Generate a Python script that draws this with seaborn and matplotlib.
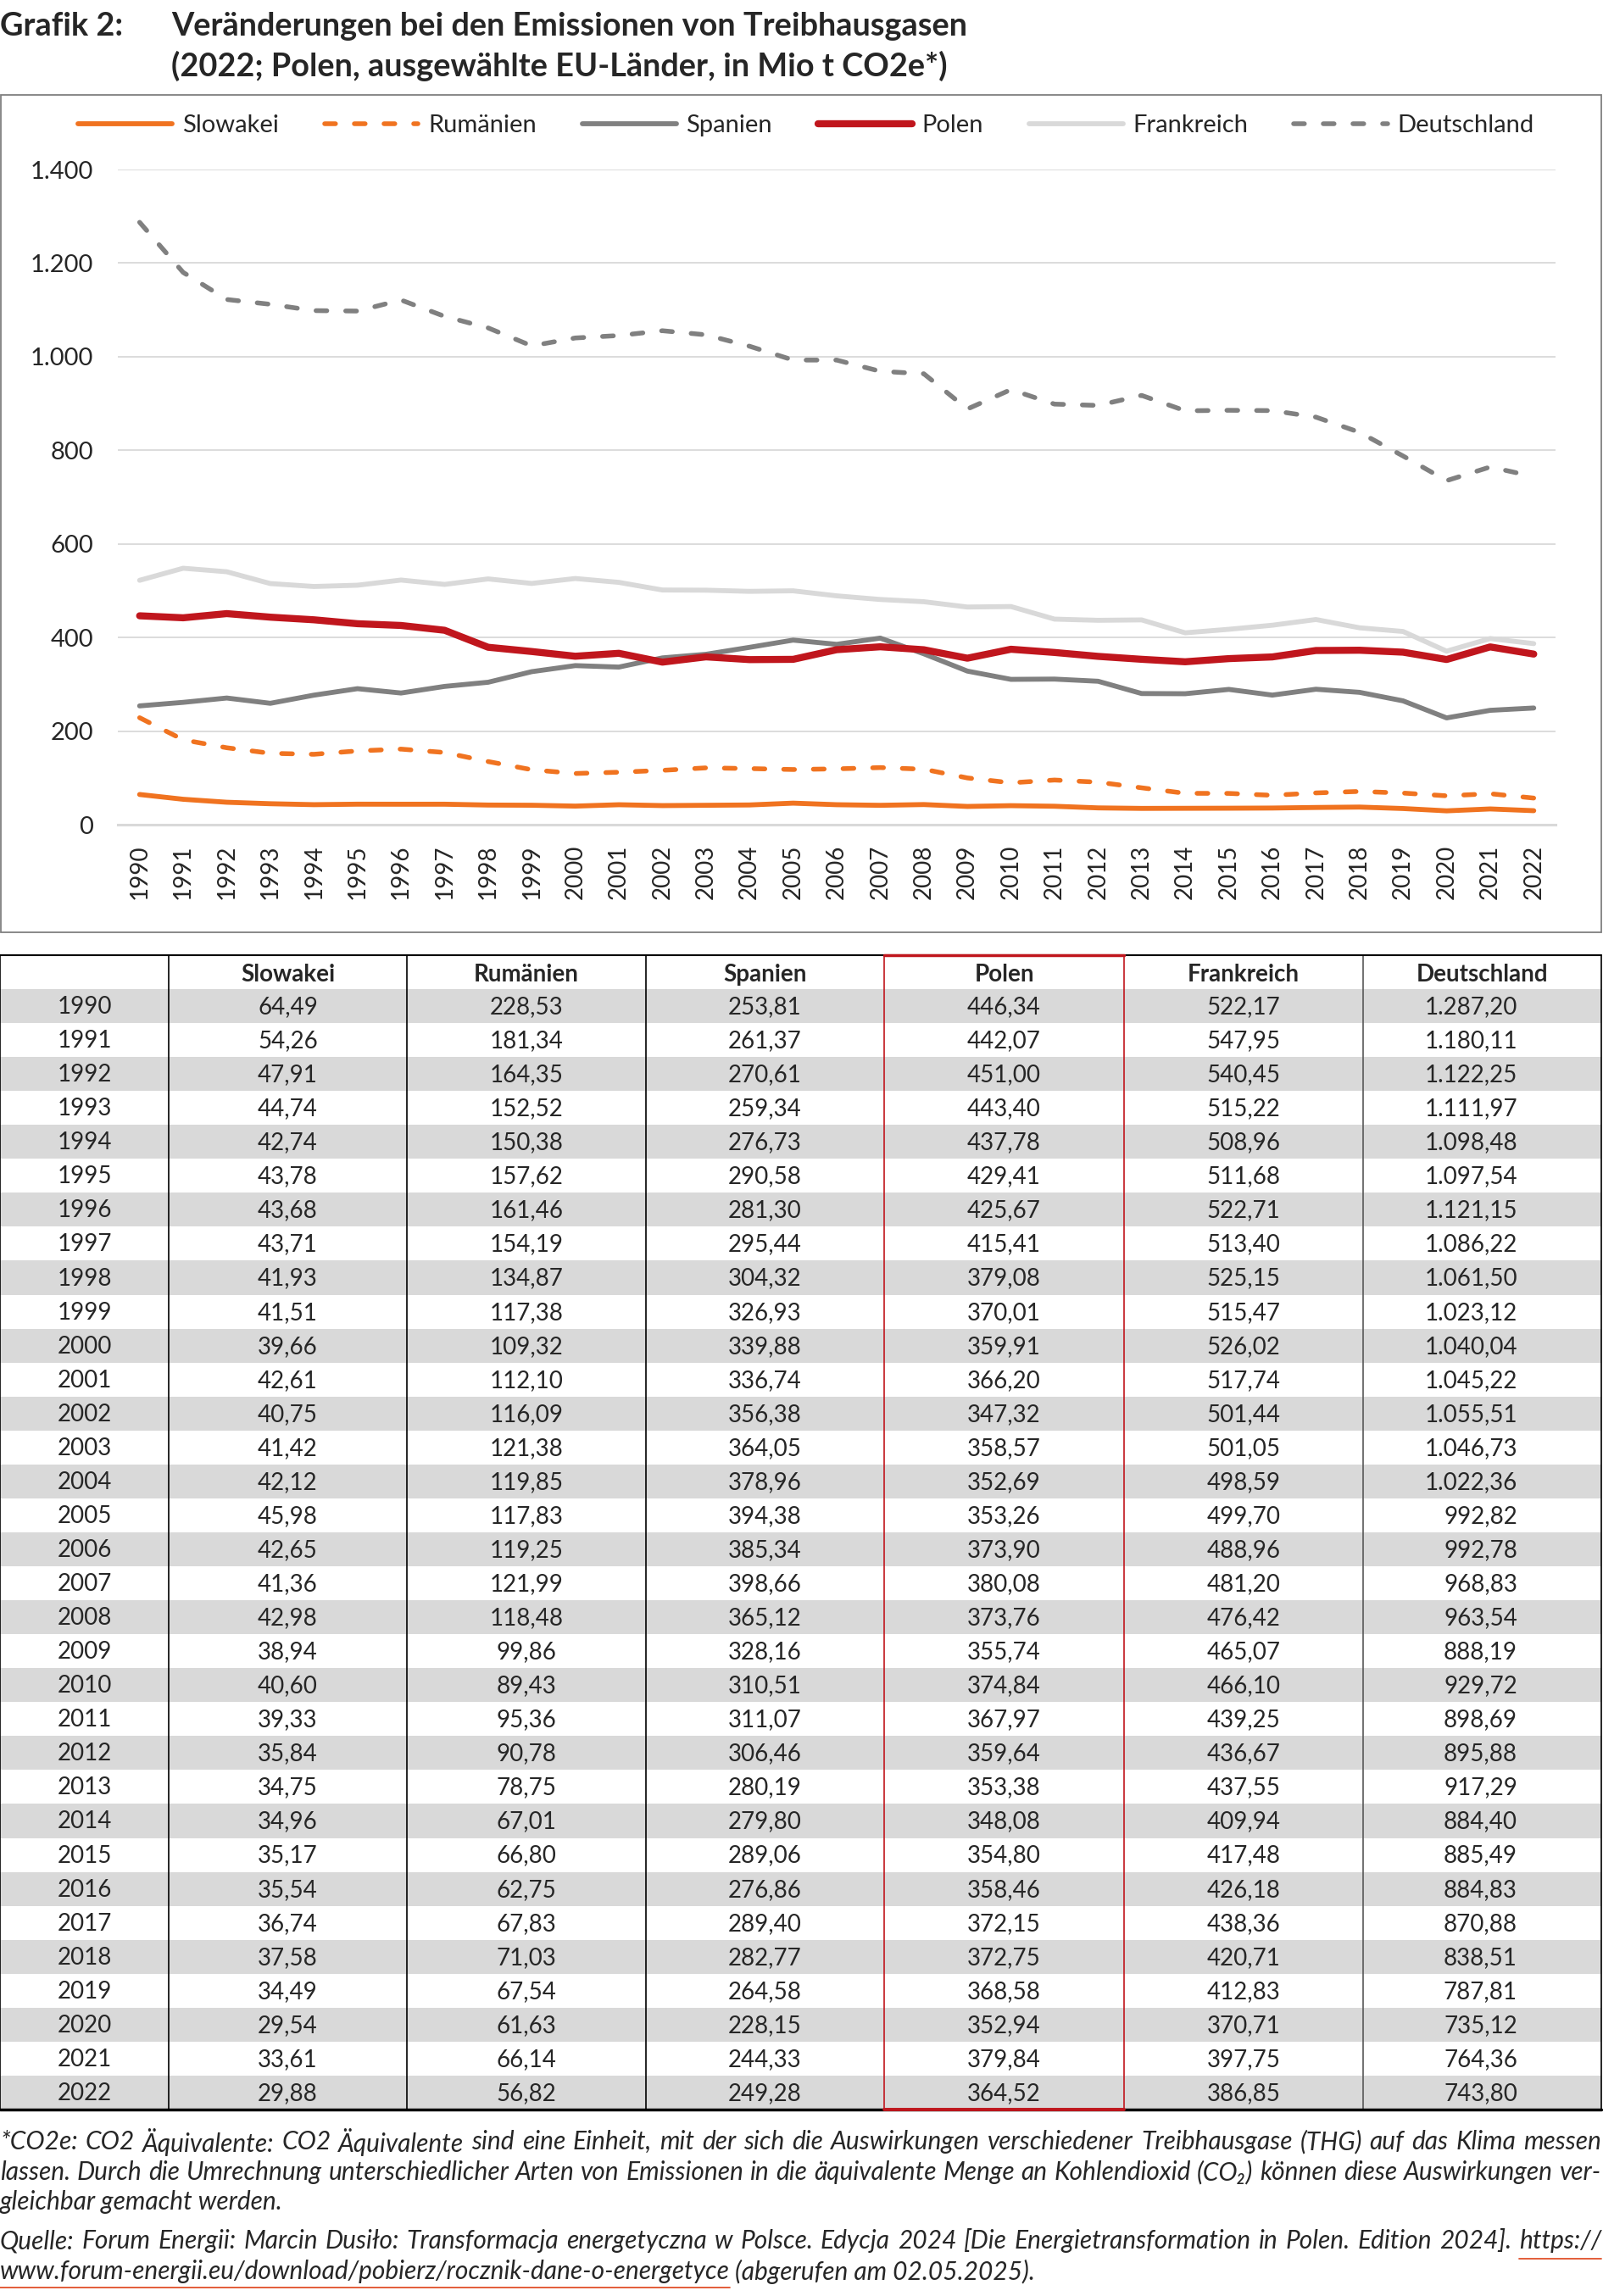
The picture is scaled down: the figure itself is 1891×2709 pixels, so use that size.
import numpy as np
import pandas as pd
import seaborn as sns
import matplotlib.pyplot as plt
from matplotlib.patches import Rectangle
from matplotlib.ticker import FuncFormatter

# Data (Mio t CO2e)
years = list(range(1990, 2023))
slowakei = [64.49, 54.26, 47.91, 44.74, 42.74, 43.78, 43.68, 43.71, 41.93, 41.51, 39.66, 42.61, 40.75, 41.42,
            42.12, 45.98, 42.65, 41.36, 42.98, 38.94, 40.60, 39.33, 35.84, 34.75, 34.96, 35.17, 35.54, 36.74,
            37.58, 34.49, 29.54, 33.61, 29.88]
rumaenien = [228.53, 181.34, 164.35, 152.52, 150.38, 157.62, 161.46, 154.19, 134.87, 117.38, 109.32, 112.10,
             116.09, 121.38, 119.85, 117.83, 119.25, 121.99, 118.48, 99.86, 89.43, 95.36, 90.78, 78.75, 67.01,
             66.80, 62.75, 67.83, 71.03, 67.54, 61.63, 66.14, 56.82]
spanien = [253.81, 261.37, 270.61, 259.34, 276.73, 290.58, 281.30, 295.44, 304.32, 326.93, 339.88, 336.74,
           356.38, 364.05, 378.96, 394.38, 385.34, 398.66, 365.12, 328.16, 310.51, 311.07, 306.46, 280.19,
           279.80, 289.06, 276.86, 289.40, 282.77, 264.58, 228.15, 244.33, 249.28]
polen = [446.34, 442.07, 451.00, 443.40, 437.78, 429.41, 425.67, 415.41, 379.08, 370.01, 359.91, 366.20,
         347.32, 358.57, 352.69, 353.26, 373.90, 380.08, 373.76, 355.74, 374.84, 367.97, 359.64, 353.38,
         348.08, 354.80, 358.46, 372.15, 372.75, 368.58, 352.94, 379.84, 364.52]
frankreich = [522.17, 547.95, 540.45, 515.22, 508.96, 511.68, 522.71, 513.40, 525.15, 515.47, 526.02, 517.74,
              501.44, 501.05, 498.59, 499.70, 488.96, 481.20, 476.42, 465.07, 466.10, 439.25, 436.67, 437.55,
              409.94, 417.48, 426.18, 438.36, 420.71, 412.83, 370.71, 397.75, 386.85]
deutschland = [1287.20, 1180.11, 1122.25, 1111.97, 1098.48, 1097.54, 1121.15, 1086.22, 1061.50, 1023.12,
               1040.04, 1045.22, 1055.51, 1046.73, 1022.36, 992.82, 992.78, 968.83, 963.54, 888.19, 929.72,
               898.69, 895.88, 917.29, 884.40, 885.49, 884.83, 870.88, 838.51, 787.81, 735.12, 764.36, 743.80]
laender = ['Slowakei', 'Rumänien', 'Spanien', 'Polen', 'Frankreich', 'Deutschland']

df = pd.DataFrame({'Jahr': years, 'Slowakei': slowakei, 'Rumänien': rumaenien, 'Spanien': spanien,
                   'Polen': polen, 'Frankreich': frankreich, 'Deutschland': deutschland})
df['idx'] = range(len(df))


def de(v, d=2):
    s = f"{v:,.{d}f}"
    return s.replace(',', 'X').replace('.', ',').replace('X', '.')


sns.set_theme(style='white')
plt.rcParams['font.family'] = ['Lato', 'DejaVu Sans']

W, H = 1891, 2709
fig = plt.figure(figsize=(W / 100, H / 100), dpi=100)

# background axes in pixel coordinates (box, table, texts)
bg = fig.add_axes([0, 0, 1, 1], zorder=0)
bg.set_xlim(0, W)
bg.set_ylim(H, 0)
bg.axis('off')

# chart
ax = fig.add_axes([139 / W, 1 - 973 / H, 1696 / W, 773 / H], zorder=2)
ax.patch.set_alpha(0)
styles = {
    'Slowakei': ('#F07320', 4.2, '-'),
    'Rumänien': ('#F07320', 4.0, (0, (2.3, 4.0))),
    'Spanien': ('#808080', 4.2, '-'),
    'Polen': ('#C0161D', 6.0, '-'),
    'Frankreich': ('#D9D9D9', 4.2, '-'),
    'Deutschland': ('#808080', 4.0, (0, (2.3, 4.0))),
}
for name in laender:
    col, lw, ls = styles[name]
    sns.lineplot(data=df, x='idx', y=name, ax=ax, color=col, linewidth=lw, linestyle=ls,
                 label=name, dash_capstyle='round', errorbar=None)

ax.set_xlim(-0.5, len(years) - 0.5)
ax.set_ylim(0, 1400)
ax.set_yticks(range(0, 1401, 200))
ax.yaxis.set_major_formatter(FuncFormatter(lambda v, p: de(v, 0)))
ax.set_xticks(df['idx'])
ax.set_xticklabels(years, rotation=90, fontsize=20)
ax.set_xticks(np.arange(-0.5, len(years)), minor=True)
ax.tick_params(axis='x', which='major', length=0, pad=17)
ax.tick_params(axis='x', which='minor', length=8, width=1.3, color='#D9D9D9', direction='out')
ax.tick_params(axis='y', length=0, pad=21, labelsize=21)
ax.grid(axis='y', color='#D9D9D9', linewidth=1.3)
ax.set_axisbelow(True)
for s in ['top', 'left', 'right']:
    ax.spines[s].set_visible(False)
ax.spines['bottom'].set_color('#D9D9D9')
ax.spines['bottom'].set_linewidth(2.2)
ax.set_xlabel('')
ax.set_ylabel('')
handles, labels = ax.get_legend_handles_labels()
ax.get_legend().remove()
fig.legend(handles, labels, loc='center', bbox_to_anchor=(0.503, 1 - 148 / H), ncol=6, frameon=False,
           fontsize=21, handlelength=3.8, handletextpad=0.4, columnspacing=1.85)

# chart frame
bg.add_patch(Rectangle((1, 112), 1888, 988, fill=False, ec='#7F7F7F', lw=1.3))

# title
bg.text(0, 31, 'Grafik 2:', fontsize=27.3, fontweight='bold', va='center', ha='left')
bg.text(202, 31, 'Veränderungen bei den Emissionen von Treibhausgasen', fontsize=27.3, fontweight='bold',
        va='center', ha='left')
bg.text(202, 78, '(2022; Polen, ausgewählte EU-Länder, in Mio t CO2e*)', fontsize=27.3, fontweight='bold',
        va='center', ha='left')

# table
cols = [0, 199, 480, 762, 1043, 1326, 1608, 1889]
top, head_bot, bot = 1127, 1167, 2489
rh = (bot - head_bot) / len(years)
for i, y in enumerate(years):
    y0 = head_bot + i * rh
    if i % 2 == 0:
        bg.add_patch(Rectangle((0, y0), cols[-1], rh, fc='#D9D9D9', ec='none'))
    yc = y0 + rh / 2 + 1
    bg.text(100, yc, str(y), fontsize=20, ha='center', va='center')
    for j, name in enumerate(laender):
        v = df[name][i]
        if name == 'Deutschland':
            bg.text(1790, yc, de(v), fontsize=20, ha='right', va='center')
        else:
            bg.text((cols[j + 1] + cols[j + 2]) / 2, yc, de(v), fontsize=20, ha='center', va='center')
for j, name in enumerate(laender):
    bg.text((cols[j + 1] + cols[j + 2]) / 2, (top + head_bot) / 2 + 3, name, fontsize=20,
            fontweight='bold', ha='center', va='center')

line_col = ['#000000', '#000000', '#000000', '#000000', '#C0161D', '#C0161D', '#595959', '#000000']
for x, c in zip(cols, line_col):
    bg.plot([x, x], [top, bot], color=c, lw=1.2, zorder=3)
bg.plot([0, cols[-1]], [top, top], color='#000000', lw=1.5, zorder=3)
bg.plot([0, cols[-1]], [bot, bot], color='#000000', lw=2.5, zorder=3)
bg.plot([cols[4], cols[5]], [top, top], color='#C0161D', lw=2.5, zorder=4)
bg.plot([cols[4], cols[5]], [bot, bot], color='#C0161D', lw=2.8, zorder=4)

# footnotes
foot = [
    ('*CO2e: CO2 Äquivalente: CO2 Äquivalente sind eine Einheit, mit der sich die Auswirkungen verschiedener '
     'Treibhausgase (THG) auf das Klima messen', 2527, True),
    ('lassen. Durch die Umrechnung unterschiedlicher Arten von Emissionen in die äquivalente Menge an '
     'Kohlendioxid (CO₂) können diese Auswirkungen ver-', 2563, True),
    ('gleichbar gemacht werden.', 2598, False),
    ('Quelle: Forum Energii: Marcin Dusiło: Transformacja energetyczna w Polsce. Edycja 2024 '
     '[Die Energietransformation in Polen. Edition 2024]. https://', 2644, True),
]
renderer = fig.canvas.get_renderer()
kw = dict(fontsize=21.5, fontstyle='italic', va='center', ha='left')
last = None
for text, y, just in foot:
    if not just:
        bg.text(0, y, text, **kw)
        continue
    words = text.split(' ')
    ts = [bg.text(0, y, w, **kw) for w in words]
    widths = [t.get_window_extent(renderer).width for t in ts]
    gap = (W - 2 - sum(widths)) / (len(words) - 1)
    x = 0
    for t, w in zip(ts, widths):
        t.set_x(x)
        x += w + gap
    last = (x - gap - widths[-1], x - gap)

# last line: url + date
url = bg.text(0, 2680, 'www.forum-energii.eu/download/pobierz/rocznik-dane-o-energetyce', **kw)
uw = url.get_window_extent(renderer).width
bg.text(uw + 6, 2680, '(abgerufen am 02.05.2025).', **kw)

# url underlines
bg.plot([last[0], last[1]], [2665, 2665], color='#E0502A', lw=1.3)
bg.plot([0, uw], [2699, 2699], color='#E0502A', lw=1.3)

fig.savefig('out.png', dpi=100, facecolor='white')
